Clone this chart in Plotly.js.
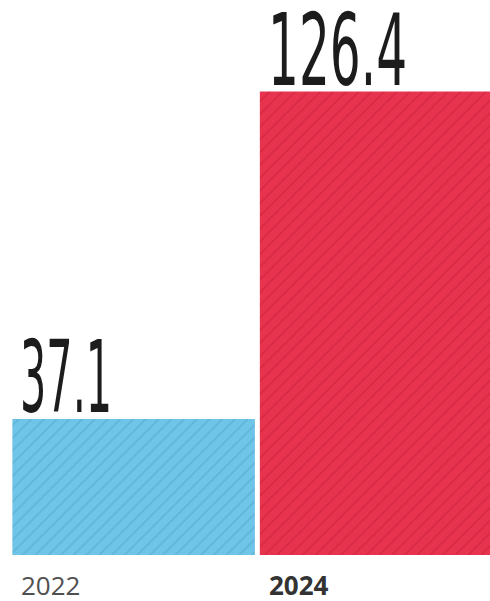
<!DOCTYPE html>
<html>
<head>
<meta charset="utf-8">
<script src="https://cdn.plot.ly/plotly-3.0.1.min.js"></script>
<style>
html,body{margin:0;padding:0;background:#fff;}
#chart{width:490px;height:601px;}
#chart g.annotation[data-index="0"] text,
#chart g.annotation[data-index="1"] text {
  transform-box: fill-box;
  transform-origin: left bottom;
}
#chart g.annotation[data-index="0"] text { transform: scaleX(0.46); }
#chart g.annotation[data-index="1"] text { transform: scaleX(0.54); }
</style>
</head>
<body>
<div id="chart"></div>
<script>
var years = ['2022', '2024'];
var values = [37.1, 126.4];
var valueLabels = ['37.1', '126.4'];
var barColors = ['#6EC5E8', '#E8334F'];
var stripeColors = ['#4E9EC2', '#C01C38'];
var yearWeights = ['normal', 'bold'];
var yearColors = ['#505050', '#333333'];

var barWidth = 0.98;
var xs = years.map(function(_, i){ return i; });

var traces = years.map(function(yr, i){
  return {
    type: 'bar',
    name: yr,
    x: [xs[i]],
    y: [values[i]],
    width: barWidth,
    marker: {
      color: barColors[i],
      line: {width: 0},
      pattern: {shape: '/', bgcolor: barColors[i], fgcolor: stripeColors[i], fgopacity: 0.45, size: 9, solidity: 0.18}
    },
    hoverinfo: 'none'
  };
});

var annotations = [];
values.forEach(function(v, i){
  annotations.push({
    x: xs[i] - barWidth/2, y: v, xref: 'x', yref: 'y',
    text: valueLabels[i], showarrow: false,
    xanchor: 'left', yanchor: 'bottom', xshift: 6, yshift: -19,
    font: {family: 'DejaVu Sans Condensed, DejaVu Sans, sans-serif', size: 100, color: '#1c1c1c'}
  });
});
years.forEach(function(y, i){
  annotations.push({
    x: xs[i] - barWidth/2, y: 0, xref: 'x', yref: 'paper',
    text: y, showarrow: false,
    xanchor: 'left', yanchor: 'top', xshift: 7, yshift: -10,
    font: {family: 'Open Sans, sans-serif', size: 26, color: yearColors[i], weight: yearWeights[i]}
  });
});

var layout = {
  width: 490, height: 601,
  margin: {l: 0, r: 0, t: 5, b: 46},
  paper_bgcolor: '#ffffff', plot_bgcolor: '#ffffff',
  showlegend: false,
  barmode: 'overlay',
  xaxis: {range: [-0.54, 1.44], visible: false, fixedrange: true},
  yaxis: {range: [0, 150], visible: false, fixedrange: true},
  annotations: annotations
};

Plotly.newPlot('chart', traces, layout, {displayModeBar: false, staticPlot: true});
</script>
</body>
</html>
